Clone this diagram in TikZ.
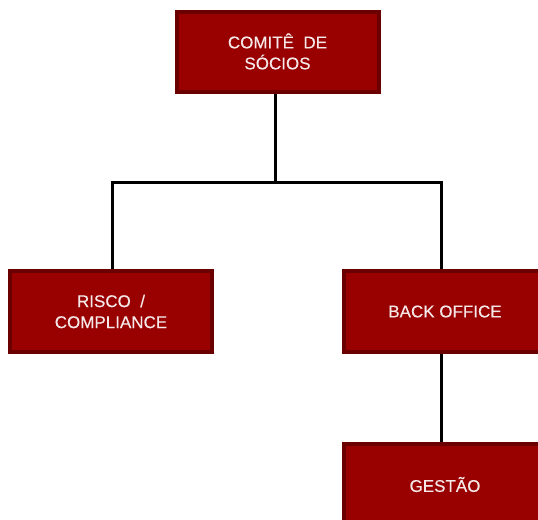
\documentclass[tikz,border=0pt]{standalone}
\usepackage{fontspec}
\setmainfont[FakeBold=0.3]{Liberation Sans}
\definecolor{boxfill}{HTML}{990000}
\definecolor{boxedge}{HTML}{6B0000}
\definecolor{boxtext}{HTML}{F4E8E8}
\begin{document}
\begin{tikzpicture}[x=0.75pt,y=-0.75pt,
  orgbox/.style={rectangle, fill=boxfill, draw=boxedge, line width=3pt,
    minimum width=202*0.75pt, minimum height=80*0.75pt, align=center,
    text=boxtext, font=\fontsize{12.75pt}{15.75pt}\selectfont, inner sep=0pt},
  link/.style={line width=2.25pt, black}]
\useasboundingbox (0,0) rectangle (538,519);
\node[orgbox] (comite) at (277.5,51.5) {COMITÊ~ DE\\SÓCIOS};
\node[orgbox, minimum height=81*0.75pt] (risco) at (111,311.5) {RISCO~ /\\COMPLIANCE};
\node[orgbox, minimum height=81*0.75pt] (back) at (445,311.5) {BACK OFFICE};
\node[orgbox, minimum height=81*0.75pt] (gestao) at (445,484.5) {GESTÃO};
\coordinate (bar) at (275.5,182);
\draw[link] ([xshift=-2*0.75pt]comite.south) -- (bar);
\draw[link] (bar) -| ([xshift=1.5*0.75pt]risco.north);
\draw[link] (bar) -| ([xshift=-3.5*0.75pt]back.north);
\draw[link] ([xshift=-3.5*0.75pt]back.south) -- ([xshift=-3.5*0.75pt]gestao.north);
\end{tikzpicture}
\end{document}
